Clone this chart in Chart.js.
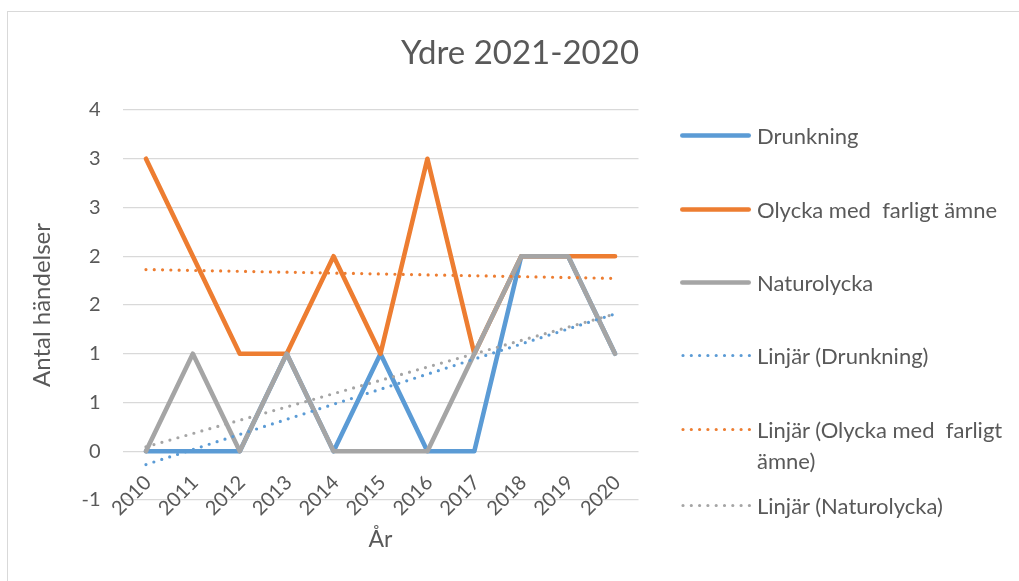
<!DOCTYPE html>
<html>
<head>
<meta charset="utf-8">
<script src="https://cdn.jsdelivr.net/npm/chart.js@4.4.1/dist/chart.umd.min.js"></script>
<style>
  html, body { margin: 0; padding: 0; background: #fff; }
  body { width: 1019px; height: 581px; position: relative; overflow: hidden; font-family: Lato, "Open Sans", sans-serif; color: #595959; }
  #frame { position: absolute; left: 7px; top: 11px; width: 1100px; height: 700px; border: 1px solid #d9d9d9; box-sizing: border-box; }
  #wrap { position: absolute; left: 0; top: 0; width: 1019px; height: 581px; }
  #title { position: absolute; left: 0; width: 1040px; top: 30px; text-align: center; font-size: 33px; line-height: 42px; color: #595959; }
  .leg { position: absolute; left: 680px; width: 340px; }
  .leg svg { position: absolute; left: 0; }
  .leg span { position: absolute; left: 77px; width: 250px; font-size: 22px; line-height: 31px; white-space: pre-wrap; color: #595959; }
</style>
</head>
<body>
<div id="frame"></div>
<div id="wrap"><canvas id="c" width="1019" height="581"></canvas></div>
<div id="title">Ydre 2021-2020</div>
<div id="legend"></div>
<script>
const years = ['2010','2011','2012','2013','2014','2015','2016','2017','2018','2019','2020'];
const drunkning = [0, 0, 0, 1, 0, 1, 0, 0, 2, 2, 1];
const olycka = [3, 2, 1, 1, 2, 1, 3, 1, 2, 2, 2];
const naturolycka = [0, 1, 0, 1, 0, 0, 0, 1, 2, 2, 1];
const seriesNames = ['Drunkning', 'Olycka med  farligt ämne', 'Naturolycka'];
const trendNames = ['Linjär (Drunkning)', 'Linjär (Olycka med  farligt ämne)', 'Linjär (Naturolycka)'];
const yTickValues = [-0.5, 0, 0.5, 1, 1.5, 2, 2.5, 3, 3.5];
const yTickLabels = ['-1', '0', '1', '1', '2', '2', '3', '3', '4'];
const yTitle = 'Antal händelser';
const xTitle = 'År';

const colors = ['#5B9BD5', '#ED7D31', '#A5A5A5'];
const textColor = '#595959';
const FONT = 'Lato, "Open Sans", sans-serif';

// Linear (least squares) trendline, as Excel's "Linjär" trendline
function linearTrend(vals) {
  const n = vals.length;
  let sx = 0, sy = 0, sxy = 0, sxx = 0;
  vals.forEach((v, i) => { sx += i; sy += v; sxy += i * v; sxx += i * i; });
  const b = (n * sxy - sx * sy) / (n * sxx - sx * sx);
  const a = (sy - b * sx) / n;
  return vals.map((_, i) => a + b * i);
}

const seriesData = [drunkning, olycka, naturolycka];

const datasets = [];
seriesData.forEach((d, k) => {
  datasets.push({
    label: seriesNames[k], data: d, borderColor: colors[k], backgroundColor: colors[k],
    borderWidth: 4.6, pointRadius: 0, pointHoverRadius: 0, tension: 0,
    borderCapStyle: 'round', borderJoinStyle: 'round', order: 5 - k
  });
});
seriesData.forEach((d, k) => {
  datasets.push({
    label: trendNames[k], data: linearTrend(d), borderColor: colors[k], backgroundColor: colors[k],
    borderWidth: 3.2, pointRadius: 0, pointHoverRadius: 0, tension: 0,
    borderDash: [0, 8.3], borderCapStyle: 'round', order: 2 - k
  });
});

// Category labels sit next to the horizontal axis, which crosses the value axis at 0 (Excel style)
const axisLabelsAtZero = {
  id: 'axisLabelsAtZero',
  beforeDatasetsDraw(chart) {
    const xs = chart.scales.x, ys = chart.scales.y, ctx = chart.ctx;
    const y0 = ys.getPixelForValue(0);
    ctx.save();
    ctx.fillStyle = textColor;
    ctx.font = '20px ' + FONT;
    ctx.textAlign = 'right';
    ctx.textBaseline = 'middle';
    years.forEach((lab, i) => {
      const x = xs.getPixelForValue(i);
      ctx.save();
      ctx.translate(x + 2, y0 + 28);
      ctx.rotate(-Math.PI / 4);
      ctx.fillText(lab, 0, 0);
      ctx.restore();
    });
    ctx.restore();
  }
};

new Chart(document.getElementById('c'), {
  type: 'line',
  data: { labels: years, datasets },
  options: {
    responsive: false, animation: false, devicePixelRatio: 1,
    layout: { padding: { left: 28, top: 110, right: 380.5, bottom: 28 } },
    plugins: { legend: { display: false }, title: { display: false }, tooltip: { enabled: false } },
    scales: {
      x: {
        offset: true,
        grid: { display: false, drawTicks: false },
        border: { display: false },
        ticks: { display: false },
        title: { display: true, text: xTitle, color: textColor, font: { family: FONT, size: 23 }, padding: 0 },
        afterFit: (s) => { s.height = 53; }
      },
      y: {
        min: -0.5, max: 3.5,
        grid: { color: '#d9d9d9', lineWidth: 1.3, drawTicks: false },
        border: { display: false },
        ticks: {
          stepSize: 0.5, padding: 22, color: textColor, font: { family: FONT, size: 20 },
          callback: (v) => { const i = yTickValues.indexOf(v); return i >= 0 ? yTickLabels[i] : ''; }
        },
        title: { display: true, text: yTitle, color: textColor, font: { family: FONT, size: 24 }, padding: 0 },
        afterFit: (s) => { s.width = 94.5; }
      }
    }
  },
  plugins: [axisLabelsAtZero]
});

// Legend (Excel-style, right side)
const legendRows = [135, 209, 282, 355, 429, 505];
const legendItems = [
  { name: seriesNames[0], color: colors[0], dotted: false },
  { name: seriesNames[1], color: colors[1], dotted: false },
  { name: seriesNames[2], color: colors[2], dotted: false },
  { name: trendNames[0], color: colors[0], dotted: true },
  { name: trendNames[1], color: colors[1], dotted: true },
  { name: trendNames[2], color: colors[2], dotted: true }
];
const legend = document.getElementById('legend');
legendItems.forEach((it, i) => {
  const cy = legendRows[i];
  const div = document.createElement('div');
  div.className = 'leg';
  div.style.top = (cy - 15.5) + 'px';
  const stroke = it.dotted
    ? `<line x1="3" y1="15.5" x2="70" y2="15.5" stroke="${it.color}" stroke-width="3.2" stroke-linecap="round" stroke-dasharray="0 8.3"/>`
    : `<line x1="2.3" y1="15.5" x2="68.7" y2="15.5" stroke="${it.color}" stroke-width="4.6" stroke-linecap="round"/>`;
  div.innerHTML = `<svg width="75" height="31">${stroke}</svg><span></span>`;
  div.querySelector('span').textContent = it.name;
  legend.appendChild(div);
});
</script>
</body>
</html>
